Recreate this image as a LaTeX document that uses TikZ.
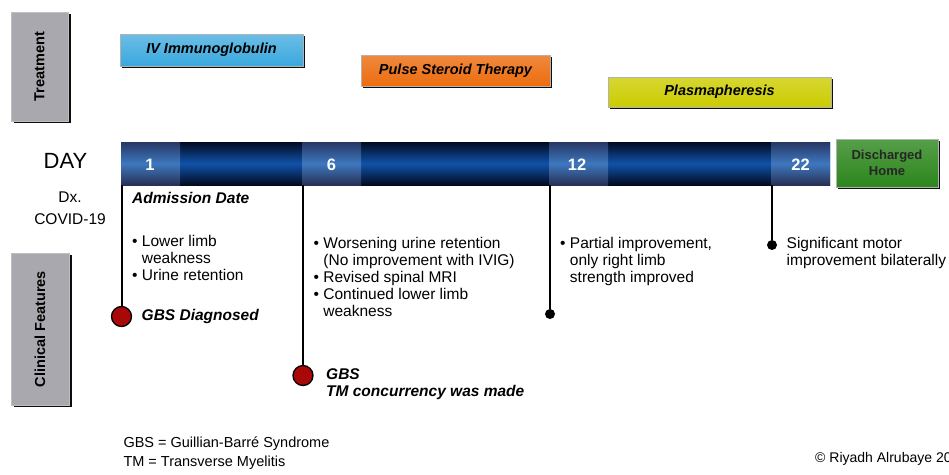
\documentclass[tikz,border=0pt]{standalone}
\usepackage{fontspec}
\setmainfont{Liberation Sans}
\usetikzlibrary{shadows, positioning, calc}
\definecolor{barnavy}{RGB}{2, 10, 32}
\definecolor{barblue}{RGB}{16, 82, 170}
\definecolor{segtop}{RGB}{38, 55, 100}
\definecolor{seglight}{RGB}{62, 120, 190}
\definecolor{segbot}{RGB}{40, 48, 85}
\definecolor{ivblue}{RGB}{58, 168, 222}
\definecolor{steroidorange}{RGB}{236, 108, 14}
\definecolor{plasmayellow}{RGB}{204, 204, 0}
\definecolor{homegreen}{RGB}{44, 134, 28}
\definecolor{sidegray}{RGB}{168, 168, 174}
\definecolor{dotred}{RGB}{168, 8, 8}

\tikzset{
  tbox/.style={draw=gray!60, inner sep=0pt, drop shadow={shadow xshift=2pt, shadow yshift=-2pt, fill=black, opacity=0.95},
    font=\bfseries\itshape\fontsize{14.5}{16}\selectfont},
  sidebox/.style={draw=gray!50, fill=sidegray, inner sep=0pt, drop shadow={shadow xshift=3pt, shadow yshift=-2pt, fill=black, opacity=0.95}},
  sidetxt/.style={rotate=90, font=\bfseries\fontsize{14.5}{16}\selectfont},
  daynum/.style={text=white, font=\bfseries\fontsize{16.5}{18}\selectfont},
  txt/.style={inner sep=0pt, anchor=north west, align=left, font=\fontsize{15.5}{17}\selectfont},
  btxt/.style={txt, font=\bfseries\itshape\fontsize{15.5}{17}\selectfont},
  reddot/.style={circle, draw=black, line width=1.3pt, fill=dotred, minimum size=20pt, inner sep=0pt},
  blackdot/.style={circle, fill=black, minimum size=10pt, inner sep=0pt},
  conn/.style={line width=2pt, black}
}

\begin{document}
\begin{tikzpicture}[x=1pt, y=-1pt]
  \useasboundingbox (0,0) rectangle (949,474);

  % 左侧分类框
  \node[sidebox, minimum width=57pt, minimum height=109pt] (treat) at (39.5,66.5) {};
  \node[sidetxt] at (treat) {Treatment};
  \node[sidebox, minimum width=58pt, minimum height=152pt] (clin) at (40,329) {};
  \node[sidetxt] at (clin) {Clinical Features};

  % 治疗条
  \node[tbox, top color=ivblue!75!white, bottom color=ivblue, minimum width=183pt, minimum height=32pt] (ivig) at (211.5,50) {IV Immunoglobulin};
  \node[tbox, top color=steroidorange!80!white, bottom color=steroidorange, minimum width=189pt, minimum height=31pt] (pulse) at (455.5,70.5) {Pulse Steroid Therapy};
  \node[tbox, top color=plasmayellow!80!white, bottom color=plasmayellow, minimum width=223pt, minimum height=30pt] (plasma) at (719.5,92) {Plasmapheresis};

  % 时间轴
  \shade[top color=barnavy, bottom color=barnavy, middle color=barblue] (121,142) rectangle (830,185);
  \foreach \xa in {121,302,549,771}
    \shade[top color=segtop, bottom color=segbot, middle color=seglight] (\xa,142) rectangle ++(59,43);
  \node[daynum] (day1) at (150,165) {1};
  \node[daynum] (day6) at (331.5,165) {6};
  \node[daynum] (day12) at (577,165) {12};
  \node[daynum] (day22) at (800.5,165) {22};
  \node[tbox, font=\bfseries\fontsize{13}{16.5}\selectfont, text=black!85, align=center, top color=homegreen!80!white, bottom color=homegreen, minimum width=102pt, minimum height=48pt] (home) at (887,163) {Discharged\\Home};

  \node[font=\fontsize{22}{24}\selectfont] (daylbl) at (65.5,160.5) {DAY};
  \node[font=\fontsize{15.5}{21.5}\selectfont, align=center] (dx) at (70,208) {Dx.\\COVID-19};

  % 临床事件
  \coordinate (t1) at (121.5,185);
  \coordinate (t6) at (303,185);
  \coordinate (t12) at (550,185);
  \coordinate (t22) at (772,185);
  \node[reddot] (gbs1) at (121.5,316.5) {};
  \node[reddot] (gbs2) at (303,375.5) {};
  \node[blackdot] (pt12) at (550,314) {};
  \node[blackdot] (pt22) at (772,245) {};
  \draw[conn] (t1) -- (gbs1);
  \draw[conn] (t6) -- (gbs2);
  \draw[conn] (t12) -- (pt12);
  \draw[conn] (t22) -- (pt22);

  \node[btxt] (admit) at (132,192.5) {Admission Date};
  \node[txt] (feat1) at (132,235.5) {• Lower limb\\\phantom{• }weakness\\• Urine retention};
  \node[btxt] (diag1) at (141.5,309.5) {GBS Diagnosed};
  \node[txt] (feat6) at (313.5,237.5) {• Worsening urine retention\\\phantom{• }(No improvement with IVIG)\\• Revised spinal MRI\\• Continued lower limb\\\phantom{• }weakness};
  \node[btxt] (diag2) at (326,368.5) {GBS\\TM concurrency was made};
  \node[txt] (feat12) at (560,237) {• Partial improvement,\\\phantom{• }only right limb\\\phantom{• }strength improved};
  \node[txt] (feat22) at (786.5,237.5) {Significant motor\\improvement bilaterally};

  % 底部缩写说明
  \node[txt, font=\fontsize{14.5}{19.5}\selectfont] (abbr) at (123.3,436.5) {GBS = Guillian-Barré Syndrome\\TM = Transverse Myelitis};
  \node[txt, font=\fontsize{14}{16}\selectfont] (copy) at (815,452.5) {© Riyadh Alrubaye 20};
\end{tikzpicture}
\end{document}
